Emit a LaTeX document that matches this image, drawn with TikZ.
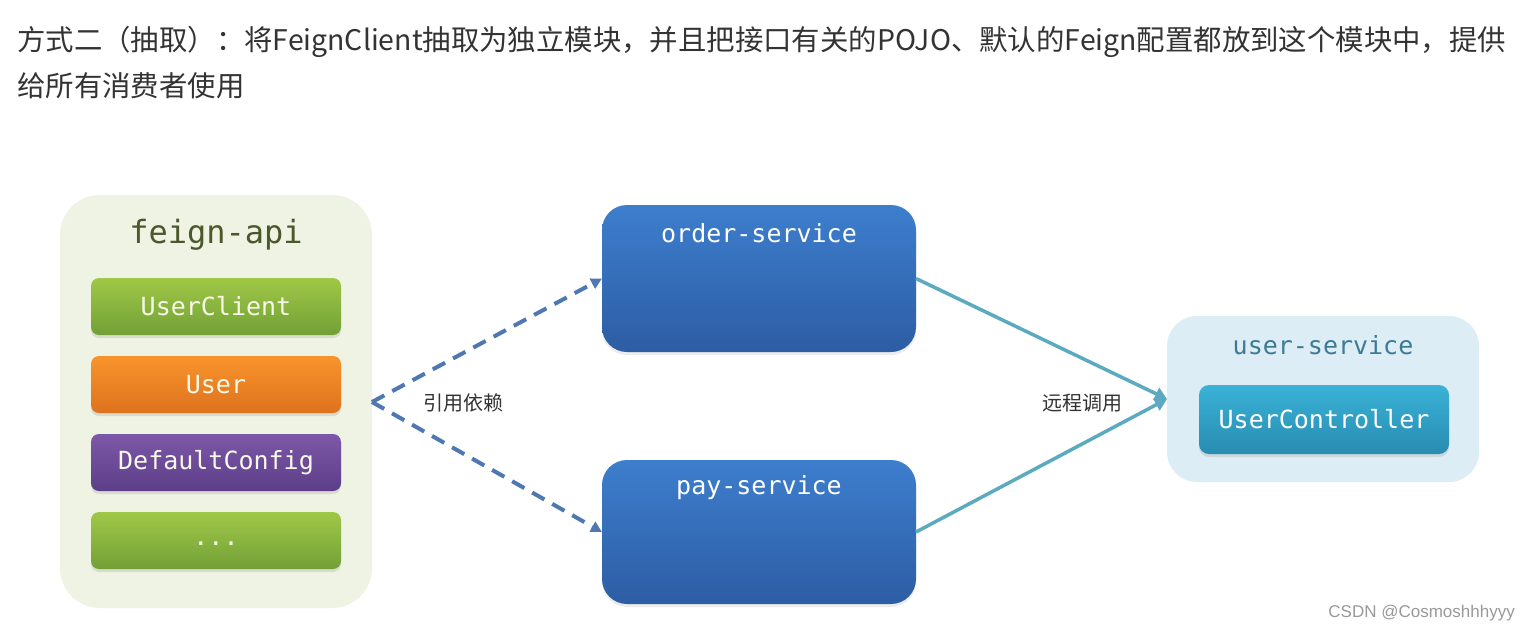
\documentclass[tikz,border=0pt]{standalone}
\usepackage{fontspec}
\setmainfont{Noto Sans CJK SC}
\setmonofont{DejaVu Sans Mono}
\newfontfamily\markfont{Liberation Sans}
\usepackage{xcolor}
\usetikzlibrary{arrows.meta,positioning,shadows}

\definecolor{apiBg}{RGB}{238,243,227}
\definecolor{apiText}{RGB}{74,88,44}
\definecolor{svcBg}{RGB}{220,237,245}
\definecolor{svcText}{RGB}{60,122,149}
\definecolor{depBlue}{RGB}{79,120,179}
\definecolor{callTeal}{RGB}{91,170,191}
\definecolor{titleGray}{RGB}{51,51,51}
\definecolor{boxText}{RGB}{248,248,232}
\definecolor{svcTop}{RGB}{61,126,205}
\definecolor{svcBottom}{RGB}{45,93,164}
\definecolor{greenTop}{RGB}{160,200,70}
\definecolor{greenBottom}{RGB}{114,160,56}
\definecolor{orangeTop}{RGB}{249,148,44}
\definecolor{orangeBottom}{RGB}{222,114,30}
\definecolor{purpleTop}{RGB}{125,88,168}
\definecolor{purpleBottom}{RGB}{92,62,136}
\definecolor{ctrlTop}{RGB}{58,178,215}
\definecolor{ctrlBottom}{RGB}{40,140,176}

\tikzset{
  px/.style={font=\fontsize{#1pt}{#1pt}\selectfont},
  item/.style={minimum width=250pt, minimum height=57pt, rounded corners=8pt,
    inner sep=0pt, outer sep=0pt, text=boxText,
    font=\fontsize{25pt}{25pt}\selectfont\ttfamily,
    drop shadow={opacity=0.2, shadow xshift=0pt, shadow yshift=-3pt}},
  svcbox/.style={minimum width=314pt, rounded corners=25pt, inner sep=0pt,
    outer sep=0pt, top color=svcTop, bottom color=svcBottom,
    drop shadow={opacity=0.15, shadow xshift=0pt, shadow yshift=-3pt}},
  monotxt/.style={font=\fontsize{#1pt}{#1pt}\selectfont\ttfamily},
}

\begin{document}
\begin{tikzpicture}[x=1pt, y=-1pt]
  \useasboundingbox[fill=white] (0,0) rectangle (1531,633);
  % Title text
  \node[px=28.4, text=titleGray, anchor=base west, inner sep=0pt] (title1) at (17,50)
    {方式二（抽取）：将FeignClient抽取为独立模块，并且把接口有关的POJO、默认的Feign配置都放到这个模块中，提供};
  \node[px=28.4, text=titleGray, anchor=base west, inner sep=0pt] (title2) at (17,96)
    {给所有消费者使用};
  % feign-api module
  \node[fill=apiBg, minimum width=312pt, minimum height=413pt, rounded corners=40pt,
        inner sep=0pt, outer sep=0pt] (api) at (216,401.5) {};
  \node[monotxt=32, text=apiText] (apititle) at (216,235) {feign-api};
  \node[item, top color=greenTop, bottom color=greenBottom] (client) at (216,306.5) {UserClient};
  \node[item, top color=orangeTop, bottom color=orangeBottom] (pojo) at (216,384.5) {User};
  \node[item, top color=purpleTop, bottom color=purpleBottom] (config) at (216,462.5) {DefaultConfig};
  \node[item, top color=greenTop, bottom color=greenBottom] (more) at (216,540.5) {\smash{\raisebox{-5pt}{...}}};
  % Consumers
  \node[svcbox, minimum height=147pt] (order) at (759,278.5) {};
  \node[monotxt=25, text=white] (ordertxt) at (759,233) {order-service};
  \node[svcbox, minimum height=144pt] (pay) at (759,532) {};
  \node[monotxt=25, text=white] (paytxt) at (759,488) {pay-service};
  % Provider
  \node[fill=svcBg, minimum width=312pt, minimum height=166pt, rounded corners=30pt,
        inner sep=0pt, outer sep=0pt] (user) at (1323,399) {};
  \node[monotxt=25, text=svcText] (usertxt) at (1323,345) {user-service};
  \node[item, minimum height=69pt, rounded corners=10pt, text=white,
        top color=ctrlTop, bottom color=ctrlBottom] (ctrl) at (1324,419.5) {UserController};
  % Dependency arrows
  \coordinate (dep) at (372,402);
  \draw[depBlue, line width=4pt, dash pattern=on 14pt off 9pt,
        -{Triangle[length=11pt,width=11pt]}] (dep) -- (order.west);
  \draw[depBlue, line width=4pt, dash pattern=on 14pt off 9pt,
        -{Triangle[length=11pt,width=11pt]}] (dep) -- (pay.west);
  \node[px=20, text=titleGray] (deplabel) at (463,403) {引用依赖};
  % Remote call arrows
  \draw[callTeal, line width=3.5pt, -{Triangle[length=12pt,width=13pt]}] (order.east) -- (user.west);
  \draw[callTeal, line width=3.5pt, -{Triangle[length=12pt,width=13pt]}] (pay.east) -- (user.west);
  \node[px=20, text=titleGray] (calllabel) at (1082,403) {远程调用};
  % Watermark
  \node[font=\markfont\fontsize{17pt}{17pt}\selectfont, text=gray!80, anchor=east, inner sep=0pt] (mark) at (1515,613)
    {CSDN @Cosmoshhhyyy};
\end{tikzpicture}
\end{document}
